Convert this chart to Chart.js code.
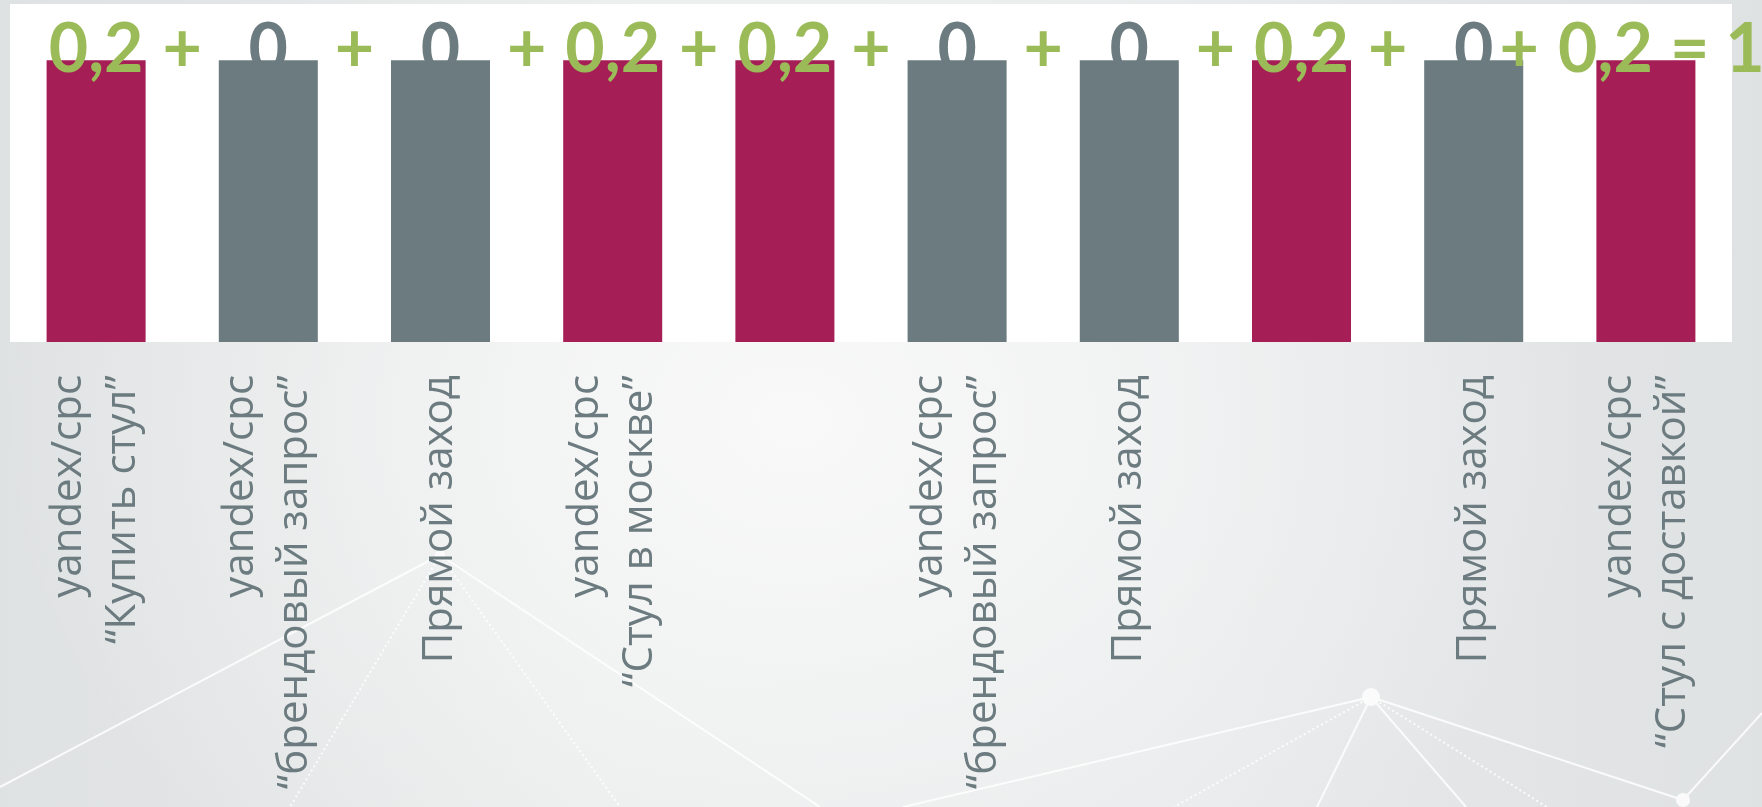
<!DOCTYPE html>
<html lang="ru">
<head>
<meta charset="utf-8">
<title>Атрибуция</title>
<script src="https://cdn.jsdelivr.net/npm/chart.js@4.4.1/dist/chart.umd.min.js"></script>
<style>
    html, body { margin: 0; padding: 0; }
    body {
        position: relative;
        width: 1762px;
        height: 807px;
        overflow: hidden;
        background:
            radial-gradient(ellipse 45% 75% at 45% 52%, rgba(249, 249, 249, 1), rgba(249, 249, 249, 0) 100%),
            linear-gradient(90deg, #dfe2e3 0%, #e9ebeb 35%, #e8eaeb 65%, #dfe2e3 100%);
    }
    #net { position: absolute; left: 0; top: 0; }
    #chart { position: absolute; left: 0; top: 0; display: block; }
</style>
</head>
<body>
<!-- декоративная «сеть» на фоне слайда -->
<svg id="net" width="1762" height="807" fill="none" stroke="#ffffff" stroke-width="2" opacity="0.85">
    <path d="M440 555 L0 787 M440 555 L820 807 M1371 697 L903 807 M1371 697 L1317 807 M1371 697 L1466 807 M1371 697 L1683 800 L1762 713"/>
    <path d="M440 555 L290 807 M440 555 L620 807 M1371 697 L1174 807 M1371 697 L1547 807" stroke-dasharray="2 3"/>
    <circle cx="440" cy="555" r="5" fill="#ffffff" stroke="none"/>
    <circle cx="1371" cy="697" r="9" fill="#ffffff" stroke="none"/>
    <circle cx="1683" cy="800" r="7" fill="#ffffff" stroke="none"/>
</svg>
<canvas id="chart" width="1762" height="807"></canvas>
<script>
// Точки касания (подписи под столбцами)
const categories = [
    ['yandex/cpc', '“Купить стул”'],
    ['yandex/cpc', '“брендовый запрос”'],
    'Прямой заход',
    ['yandex/cpc', '“Стул в москве”'],
    '',
    ['yandex/cpc', '“брендовый запрос”'],
    'Прямой заход',
    '',
    'Прямой заход',
    ['yandex/cpc', '“Стул с доставкой”']
];

// Высота столбцов (все касания одинаковые)
const touches = [1, 1, 1, 1, 1, 1, 1, 1, 1, 1];

// Доля конверсии каждого касания
const shares = [0.2, 0, 0, 0.2, 0.2, 0, 0, 0.2, 0, 0.2];

// Цвета
const COLOR_ACTIVE = '#a51e55';
const COLOR_IDLE = '#6c7b7f';
const COLOR_GREEN = '#9bbb59';
const COLOR_TEXT = '#6c7b7f';

const fmt = v => String(Math.round(v * 10) / 10).replace('.', ',');
const total = shares.reduce((a, b) => a + b, 0);

// Белая подложка под областью графика
const whiteArea = {
    id: 'whiteArea',
    beforeDraw(chart) {
        const { ctx, chartArea } = chart;
        ctx.save();
        ctx.fillStyle = '#ffffff';
        ctx.fillRect(chartArea.left, chartArea.top, chartArea.right - chartArea.left, chartArea.bottom - chartArea.top);
        ctx.restore();
    }
};

// Многострочные повёрнутые подписи центрируем по столбцу
const centerLabels = {
    id: 'centerLabels',
    beforeDraw(chart) {
        const scale = chart.scales.x;
        scale.getLabelItems(chart.chartArea).forEach(item => {
            const lines = Array.isArray(item.label) ? item.label.length : 1;
            if (lines > 1 && !item._centered) {
                item.options.translation[0] -= (lines - 1) * item.font.lineHeight / 2;
                item._centered = true;
            }
        });
    }
};

// Формула над столбцами: 0,2 + 0 + ... = 1
const equation = {
    id: 'equation',
    afterDatasetsDraw(chart) {
        const { ctx } = chart;
        const bars = chart.getDatasetMeta(0).data;
        const n = bars.length;
        const step = bars[1].x - bars[0].x;
        const baseY = bars[0].y + 12;
        // хвост формулы в оригинале сдвинут влево, чтобы влезло "= 1"
        const tail = -0.235 * step;
        ctx.save();
        ctx.font = 'bold 68px Lato';
        ctx.textAlign = 'center';
        ctx.textBaseline = 'alphabetic';
        bars.forEach((bar, i) => {
            const x = i === n - 1 ? bar.x + tail : bar.x;
            ctx.fillStyle = shares[i] > 0 ? COLOR_GREEN : COLOR_IDLE;
            ctx.fillText(fmt(shares[i]), x, baseY);
            if (i < n - 1) {
                const mid = (bar.x + bars[i + 1].x) / 2;
                ctx.fillStyle = COLOR_GREEN;
                ctx.fillText('+', i === n - 2 ? mid + tail : mid, baseY);
            }
        });
        const last = bars[n - 1];
        ctx.fillStyle = COLOR_GREEN;
        ctx.fillText('=', last.x + step * 0.255, baseY);
        ctx.fillText(fmt(total), last.x + step * 0.575, baseY);
        ctx.restore();
    }
};

const ctx = document.getElementById('chart').getContext('2d');
new Chart(ctx, {
    type: 'bar',
    data: {
        labels: categories,
        datasets: [{
            data: touches,
            backgroundColor: shares.map(s => s > 0 ? COLOR_ACTIVE : COLOR_IDLE),
            borderWidth: 0,
            categoryPercentage: 1,
            barPercentage: 0.575
        }]
    },
    options: {
        responsive: false,
        animation: false,
        layout: {
            padding: { left: 10, right: 30, top: 4, bottom: 0 }
        },
        plugins: {
            legend: { display: false },
            tooltip: { enabled: false }
        },
        scales: {
            x: {
                grid: { display: false, drawTicks: false },
                border: { display: false },
                ticks: {
                    autoSkip: false,
                    minRotation: 90,
                    maxRotation: 90,
                    padding: 33,
                    color: COLOR_TEXT,
                    font: { family: "'Open Sans'", size: 42, lineHeight: 1.28 }
                },
                afterFit: scale => {
                    scale.height = 465;
                    scale.paddingLeft = 0;
                    scale.paddingRight = 0;
                }
            },
            y: {
                display: false,
                min: 0,
                max: 1.2
            }
        }
    },
    plugins: [whiteArea, centerLabels, equation]
});
</script>
</body>
</html>
